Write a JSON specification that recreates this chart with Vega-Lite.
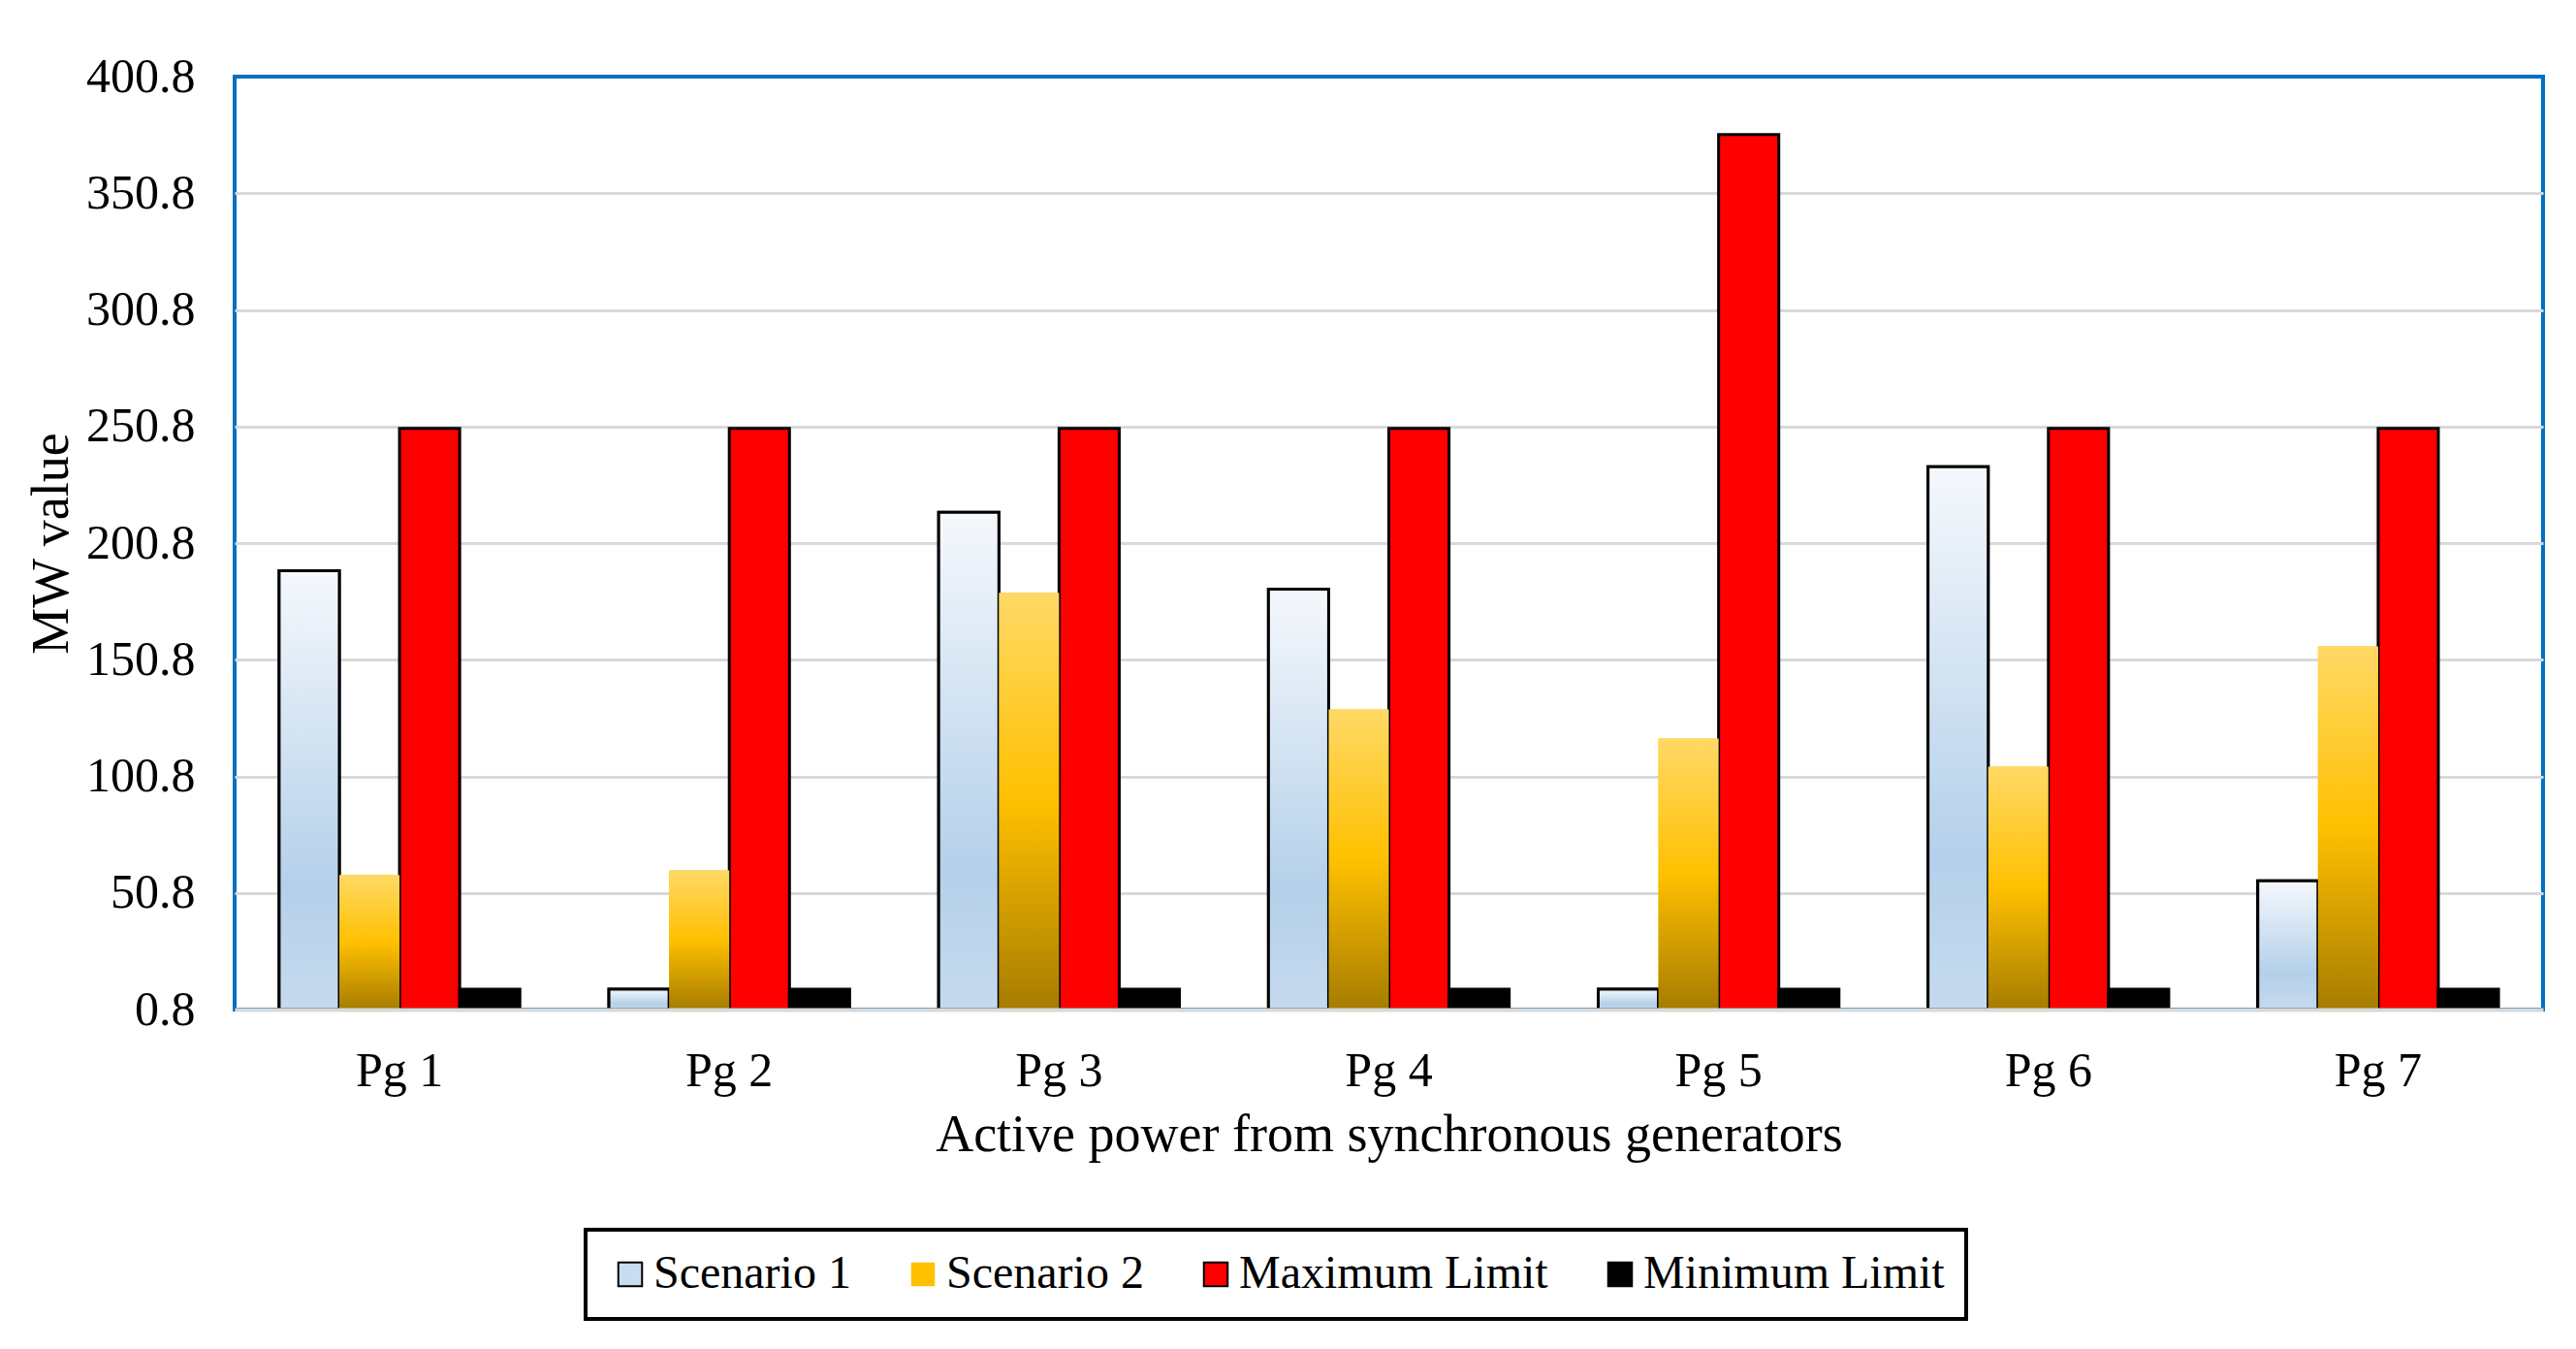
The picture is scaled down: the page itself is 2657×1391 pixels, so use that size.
{
  "$schema": "https://vega.github.io/schema/vega-lite/v6.json",
  "autosize": {"type": "none"},
  "padding": {"left": 242, "top": 79, "right": 34, "bottom": 350},
  "width": 2381,
  "height": 962,
  "background": "white",
  "config": {
    "view": {"stroke": "#0070C0", "strokeWidth": 4},
    "font": "Liberation Serif"
  },
  "data": {
    "values": [
      {"pg": "Pg 1", "series": "Scenario 1", "value": 189},
      {"pg": "Pg 1", "series": "Scenario 2", "value": 58.5},
      {"pg": "Pg 1", "series": "Maximum Limit", "value": 250},
      {"pg": "Pg 1", "series": "Minimum Limit", "value": 9.5},
      {"pg": "Pg 2", "series": "Scenario 1", "value": 9.5},
      {"pg": "Pg 2", "series": "Scenario 2", "value": 60.5},
      {"pg": "Pg 2", "series": "Maximum Limit", "value": 250},
      {"pg": "Pg 2", "series": "Minimum Limit", "value": 9.5},
      {"pg": "Pg 3", "series": "Scenario 1", "value": 214},
      {"pg": "Pg 3", "series": "Scenario 2", "value": 179.5},
      {"pg": "Pg 3", "series": "Maximum Limit", "value": 250},
      {"pg": "Pg 3", "series": "Minimum Limit", "value": 9.5},
      {"pg": "Pg 4", "series": "Scenario 1", "value": 181},
      {"pg": "Pg 4", "series": "Scenario 2", "value": 129.5},
      {"pg": "Pg 4", "series": "Maximum Limit", "value": 250},
      {"pg": "Pg 4", "series": "Minimum Limit", "value": 9.5},
      {"pg": "Pg 5", "series": "Scenario 1", "value": 9.5},
      {"pg": "Pg 5", "series": "Scenario 2", "value": 117},
      {"pg": "Pg 5", "series": "Maximum Limit", "value": 376},
      {"pg": "Pg 5", "series": "Minimum Limit", "value": 9.5},
      {"pg": "Pg 6", "series": "Scenario 1", "value": 233.5},
      {"pg": "Pg 6", "series": "Scenario 2", "value": 105},
      {"pg": "Pg 6", "series": "Maximum Limit", "value": 250},
      {"pg": "Pg 6", "series": "Minimum Limit", "value": 9.5},
      {"pg": "Pg 7", "series": "Scenario 1", "value": 56},
      {"pg": "Pg 7", "series": "Scenario 2", "value": 156.5},
      {"pg": "Pg 7", "series": "Maximum Limit", "value": 250},
      {"pg": "Pg 7", "series": "Minimum Limit", "value": 9.5}
    ]
  },
  "encoding": {
    "x": {
      "field": "pg", "type": "nominal", "sort": null,
      "scale": {"paddingInner": 0.27, "paddingOuter": 0.135},
      "axis": {
        "title": "Active power from synchronous generators",
        "titleFont": "Liberation Serif", "titleFontSize": 54, "titleFontWeight": "normal", "titleColor": "black",
        "titlePadding": 14,
        "labelFont": "Liberation Serif", "labelFontSize": 50, "labelColor": "black", "labelAngle": 0,
        "labelPadding": 38, "ticks": false, "tickSize": 0,
        "domainColor": "#D9D9D9", "domainWidth": 4, "zindex": 1
      }
    },
    "xOffset": {
      "field": "series", "type": "nominal",
      "scale": {"domain": ["Scenario 1", "Scenario 2", "Maximum Limit", "Minimum Limit"]}
    },
    "y": {
      "field": "value", "type": "quantitative",
      "scale": {"domain": [0.8, 400.8], "nice": false, "zero": false, "clamp": true},
      "axis": {
        "title": "MW value",
        "titleFont": "Liberation Serif", "titleFontSize": 54, "titleFontWeight": "normal", "titleColor": "black",
        "titlePadding": 8,
        "labelFont": "Liberation Serif", "labelFontSize": 50, "labelColor": "black",
        "labelPadding": 41, "ticks": false, "tickSize": 0, "domain": false,
        "values": [0.8, 50.8, 100.8, 150.8, 200.8, 250.8, 300.8, 350.8, 400.8],
        "format": ".1f",
        "gridColor": {"condition": {"test": "datum.value > 400 || datum.value < 1", "value": "transparent"}, "value": "#D9D9D9"},
        "gridWidth": 3
      }
    }
  },
  "layer": [
    {
      "mark": {"type": "bar", "strokeWidth": 3},
      "encoding": {
        "fill": {
          "field": "series", "type": "nominal",
          "scale": {
            "domain": ["Scenario 1", "Scenario 2", "Maximum Limit", "Minimum Limit"],
            "range": ["#C9DCF0", "#FFC000", "#FF0000", "#000000"]
          },
          "legend": {
            "title": null,
            "orient": "none", "legendX": 362, "legendY": 1189,
            "direction": "horizontal", "columns": 4,
            "labelFont": "Liberation Serif", "labelFontSize": 48, "labelColor": "black",
            "labelOffset": 0, "columnPadding": 50,
            "symbolType": "square", "symbolSize": 600,
            "symbolStrokeColor": "black", "symbolStrokeWidth": 2,
            "padding": 22, "strokeColor": "black",
            "labelLimit": 0,
            "encode": {
              "legend": {"update": {"strokeWidth": {"value": 4}}},
              "symbols": {"update": {"stroke": {"signal": "datum.value === 'Scenario 2' ? 'transparent' : 'black'"}}}
            }
          }
        },
        "stroke": {
          "field": "series", "type": "nominal",
          "scale": {
            "domain": ["Scenario 1", "Scenario 2", "Maximum Limit", "Minimum Limit"],
            "range": ["#000000", "transparent", "#000000", "#000000"]
          },
          "legend": null
        }
      }
    },
    {
      "transform": [{"filter": "datum.series === 'Scenario 1' || datum.series === 'Scenario 2'"}],
      "mark": {"type": "bar", "strokeWidth": 3},
      "encoding": {
        "fill": {
          "condition": {
            "test": "datum.series === 'Scenario 1'",
            "value": {"gradient": "linear", "x1": 0, "y1": 0, "x2": 0, "y2": 1, "stops": [
              {"offset": 0, "color": "#F5F8FC"},
              {"offset": 0.72, "color": "#B4D0EA"},
              {"offset": 1, "color": "#C6DAEE"}]}
          },
          "value": {"gradient": "linear", "x1": 0, "y1": 0, "x2": 0, "y2": 1, "stops": [
            {"offset": 0, "color": "#FFD966"},
            {"offset": 0.5, "color": "#FFC000"},
            {"offset": 1, "color": "#A67C00"}]}
        },
        "stroke": {
          "condition": {"test": "datum.series === 'Scenario 1'", "value": "#000000"},
          "value": null
        }
      }
    }
  ]
}
